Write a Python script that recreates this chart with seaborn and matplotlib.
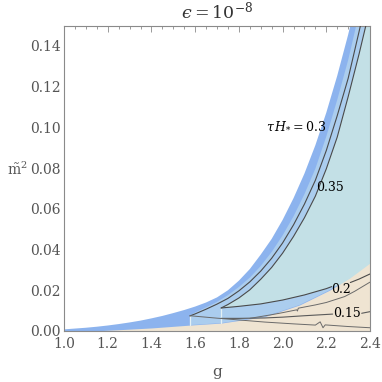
import matplotlib
matplotlib.use("Agg")
import matplotlib.pyplot as plt
import seaborn as sns
import numpy as np

# ---------------- data ----------------
# outer edge of the dark-blue band (white / blue boundary)
g_outer = [1.00, 1.05, 1.10, 1.15, 1.20, 1.25, 1.30, 1.35, 1.40, 1.45, 1.50, 1.55, 1.60, 1.65,
           1.70, 1.75, 1.80, 1.85, 1.90, 1.95, 2.00, 2.05, 2.10, 2.15, 2.20, 2.25, 2.30, 2.35, 2.40]
m2_outer = [0.0008, 0.0012, 0.0016, 0.0021, 0.0027, 0.0034, 0.0042, 0.0051, 0.0062, 0.0074,
            0.0088, 0.0103, 0.0120, 0.0140, 0.0165, 0.0200, 0.0247, 0.0304, 0.0375, 0.0452,
            0.0545, 0.0652, 0.0773, 0.0912, 0.1072, 0.1253, 0.1455, 0.1680, 0.1930]

# inner edge of dark band and the tau H* = 0.3 contour
g_band = [1.576, 1.60, 1.65, 1.70, 1.75, 1.80, 1.85, 1.90, 1.95, 2.00, 2.05, 2.10, 2.15,
          2.20, 2.25, 2.30, 2.35, 2.40]
m2_band_edge = [0.0076, 0.0091, 0.0116, 0.0143, 0.0176, 0.0216, 0.0262, 0.0319, 0.0388,
                0.0469, 0.0563, 0.0672, 0.0797, 0.0955, 0.1135, 0.1330, 0.1560, 0.1800]
m2_tau030 = [0.0074, 0.0084, 0.0107, 0.0132, 0.0160, 0.0197, 0.0241, 0.0294, 0.0357,
             0.0432, 0.0521, 0.0623, 0.0740, 0.0886, 0.1057, 0.1240, 0.1470, 0.1710]

# tau H* = 0.35 contour
g_tau035 = [1.719, 1.75, 1.80, 1.85, 1.90, 1.95, 2.00, 2.05, 2.10, 2.15, 2.20, 2.25, 2.30, 2.35, 2.40]
m2_tau035 = [0.0113, 0.0130, 0.0162, 0.0202, 0.0254, 0.0312, 0.0382, 0.0464, 0.0556,
             0.0662, 0.0796, 0.0952, 0.1150, 0.1360, 0.1585]

# tau H* = 0.2 contour (break for label between 2.225 and 2.31)
g_tau020 = [1.719, 1.80, 1.90, 2.00, 2.10, 2.20, 2.225, 2.31, 2.35, 2.40]
m2_tau020 = [0.0113, 0.0121, 0.0133, 0.0152, 0.0177, 0.0208, 0.0218, 0.0238, 0.0255, 0.0280]

# tau H* = 0.15 contour (break for label between 2.229 and 2.362)
g_tau015 = [1.719, 1.80, 1.917, 2.00, 2.10, 2.229, 2.362, 2.40]
m2_tau015 = [0.0062, 0.0062, 0.0064, 0.0068, 0.0075, 0.0083, 0.0087, 0.0095]

# other curves inside the beige region
g_curve_a = [1.85, 1.95, 2.00, 2.065, 2.068, 2.072, 2.15, 2.20, 2.284, 2.33, 2.40]
m2_curve_a = [0.0062, 0.0080, 0.0090, 0.0104, 0.0098, 0.0112, 0.0128, 0.0140, 0.0169, 0.0195, 0.0240]
g_curve_b = [1.576, 1.70, 1.803, 1.917, 2.05, 2.15, 2.172, 2.185, 2.195, 2.30, 2.40]
m2_curve_b = [0.0075, 0.0063, 0.0054, 0.0044, 0.0035, 0.0029, 0.0045, 0.0016, 0.0030, 0.0022, 0.0016]

# top of the beige region
g_beige = [1.00, 1.13, 1.28, 1.40, 1.576, 1.719, 1.917, 2.078, 2.216, 2.307, 2.40]
m2_beige = [0.0, 0.0, 0.0008, 0.0015, 0.0029, 0.0039, 0.0070, 0.0128, 0.0201, 0.0260, 0.0334]

# light seams at region corners
seam_g = [1.576, 1.719]
seam_lo = [0.0029, 0.0039]
seam_hi = [0.0074, 0.0113]

# contour labels
label_text = [r"$\tau\,H_{*}=0.3$", "0.35", "0.2", "0.15"]
label_g = [2.203, 2.218, 2.266, 2.296]
label_m2 = [0.1004, 0.0705, 0.0206, 0.0088]
label_ha = ["right", "center", "center", "center"]

xticks = [1.0, 1.2, 1.4, 1.6, 1.8, 2.0, 2.2, 2.4]
yticks = [0.00, 0.02, 0.04, 0.06, 0.08, 0.10, 0.12, 0.14]

# ---------------- style ----------------
sns.set_theme(style="white")
plt.rcParams["font.family"] = ["DejaVu Serif"]
plt.rcParams["mathtext.fontset"] = "dejavuserif"

C_DARK = "#8cb3ee"
C_MED = "#abcdee"
C_CYAN = "#c3e0e6"
C_BEIGE = "#efe4d2"
C_LINE = "#4a4a4a"
C_AX = "#8a8a8a"
C_TXT = "#555555"

fig = plt.figure(figsize=(3.82, 3.82), dpi=100)
ax = fig.add_axes([64 / 382, 1 - 331 / 382, 306 / 382, 305.5 / 382])

# regions
ax.fill_between(g_outer, 0, m2_outer, color=C_DARK, lw=0)
med_x = [g for g in g_beige if g >= 1.576] + g_band[::-1]
med_y = [m for g, m in zip(g_beige, m2_beige) if g >= 1.576] + m2_band_edge[::-1]
ax.fill(med_x, med_y, color=C_MED, lw=0)
cy_x = g_tau020 + g_tau035[::-1]
cy_y = m2_tau020 + m2_tau035[::-1]
ax.fill(cy_x, cy_y, color=C_CYAN, lw=0)
ax.fill_between(g_beige, 0, m2_beige, color=C_BEIGE, lw=0)

# seams
for gs, lo, hi in zip(seam_g, seam_lo, seam_hi):
    ax.plot([gs, gs], [lo, hi], color="#e4f1f5", lw=0.9, zorder=3)

# contour lines
def draw(xs, ys, col=C_LINE, lw=0.8):
    sns.lineplot(x=xs, y=ys, sort=False, estimator=None, color=col, lw=lw, ax=ax, zorder=4)

draw(g_band, m2_tau030)
draw(g_tau035, m2_tau035)
draw(g_tau020[:7], m2_tau020[:7])
draw(g_tau020[7:], m2_tau020[7:])
draw(g_tau015[:6], m2_tau015[:6], col="#5a5a5a")
draw(g_tau015[6:], m2_tau015[6:], col="#5a5a5a")
draw(g_curve_a, m2_curve_a, col="#6a6a6a", lw=0.7)
draw(g_curve_b, m2_curve_b, col="#6a6a6a", lw=0.7)

for t, gx, my, ha in zip(label_text, label_g, label_m2, label_ha):
    ax.text(gx, my, t, ha=ha, va="center", fontsize=9.0, color="black", zorder=5)

# axes
ax.set_xlim(1.0, 2.4)
ax.set_ylim(0.0, 0.15)
ax.set_xticks(xticks)
ax.set_yticks(yticks)
ax.set_xticklabels([f"{v:.1f}" for v in xticks])
ax.set_yticklabels([f"{v:.2f}" for v in yticks])
ax.set_xticks(np.arange(1.0, 2.4001, 0.05), minor=True)
ax.set_yticks(np.arange(0.0, 0.1501, 0.005), minor=True)
ax.tick_params(which="both", direction="in", top=True, right=True, color=C_AX,
               labelcolor=C_TXT, labelsize=10, width=0.6)
ax.tick_params(which="major", length=4.0)
ax.tick_params(which="minor", length=2.2)
ax.tick_params(axis="x", pad=4.5)
ax.tick_params(axis="y", pad=2.5)
for s in ax.spines.values():
    s.set_color(C_AX)
    s.set_linewidth(0.8)
ax.grid(False)

ax.set_xlabel("g", fontsize=11, color=C_TXT)
ax.xaxis.set_label_coords(0.5, -0.11)
ax.set_ylabel(r"$\tilde{\mathrm{m}}^{2}$", fontsize=10, color=C_TXT, rotation=0,
              ha="center", va="center")
ax.yaxis.set_label_coords(-0.152, 0.53)
ax.set_title("$\u03f5 = 10^{-8}$", fontsize=12.5, color="#333333", pad=5)

fig.savefig("out.png", dpi=100)
